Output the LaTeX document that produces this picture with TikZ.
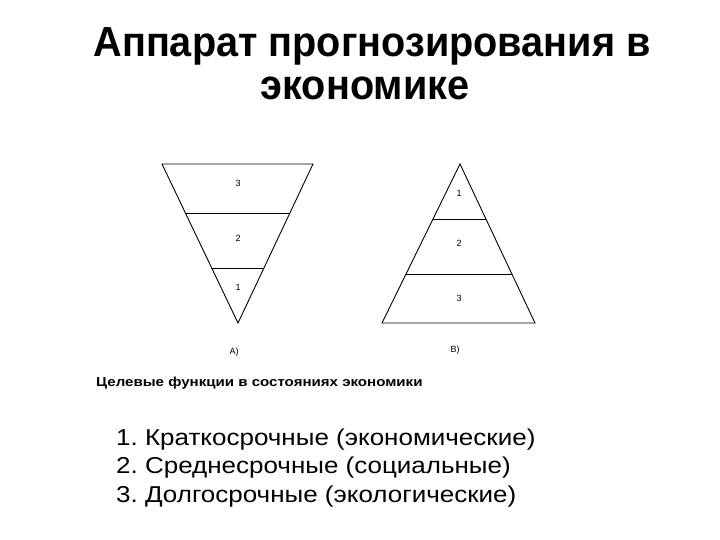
\documentclass[tikz,border=0pt]{standalone}
\usepackage{fontspec}
\setmainfont{Liberation Sans}
\usetikzlibrary{calc}
\frenchspacing
\begin{document}
\begin{tikzpicture}[x=1pt,y=-1pt,
  tri/.style={line width=0.9pt,line join=miter},
  sep/.style={line width=0.9pt},
  lbl/.style={font=\fontsize{9}{10}\selectfont,inner sep=0pt},
  ttl/.style={font=\fontsize{42}{48}\bfseries\selectfont,inner sep=0pt,anchor=base},
  item/.style={font=\fontsize{23}{27}\selectfont,inner sep=0pt,anchor=base west}]
\useasboundingbox[fill=white] (0,0) rectangle (720,540);
% title
\node[ttl] (t1) at (372,57) {\scalebox{0.944}[1]{Аппарат прогнозирования в}};
\node[ttl] (t2) at (365,100) {\scalebox{0.944}[1]{экономике}};
% inverted pyramid A
\coordinate (aL) at (162,164);
\coordinate (aR) at (313,164);
\coordinate (aB) at (238,323);
\draw[tri] (aL) -- (aR) -- (aB) -- cycle;
\draw[sep] ($(aB)!110/159!(aL)$) -- ($(aB)!110/159!(aR)$);
\draw[sep] ($(aB)!55/159!(aL)$) -- ($(aB)!55/159!(aR)$);
\node[lbl] (a3) at (238,183) {3};
\node[lbl] (a2) at (238,238) {2};
\node[lbl] (a1) at (238,287) {1};
\node[lbl] (aA) at (234,352) {A)};
% pyramid B
\coordinate (bT) at (460,164);
\coordinate (bL) at (382,323);
\coordinate (bR) at (535,323);
\draw[tri] (bT) -- (bR) -- (bL) -- cycle;
\draw[sep] ($(bT)!55/159!(bL)$) -- ($(bT)!55/159!(bR)$);
\draw[sep] ($(bT)!110/159!(bL)$) -- ($(bT)!110/159!(bR)$);
\node[lbl] (b1) at (459,193) {1};
\node[lbl] (b2) at (459,243) {2};
\node[lbl] (b3) at (459,298) {3};
\node[lbl] (bB) at (455,350) {B)};
% caption
\node[font=\fontsize{13}{15}\bfseries\selectfont,inner sep=0pt,anchor=base west] (cap) at (96,386) {\scalebox{1.16}[1]{Целевые функции в состояниях экономики}};
% list
\node[item] (i1) at (116,445) {\scalebox{1.13}[1]{1. Краткосрочные (экономические)}};
\node[item] (i2) at (116,473.5) {\scalebox{1.13}[1]{2. Среднесрочные (социальные)}};
\node[item] (i3) at (116,502) {\scalebox{1.13}[1]{3. Долгосрочные (экологические)}};
\end{tikzpicture}
\end{document}
